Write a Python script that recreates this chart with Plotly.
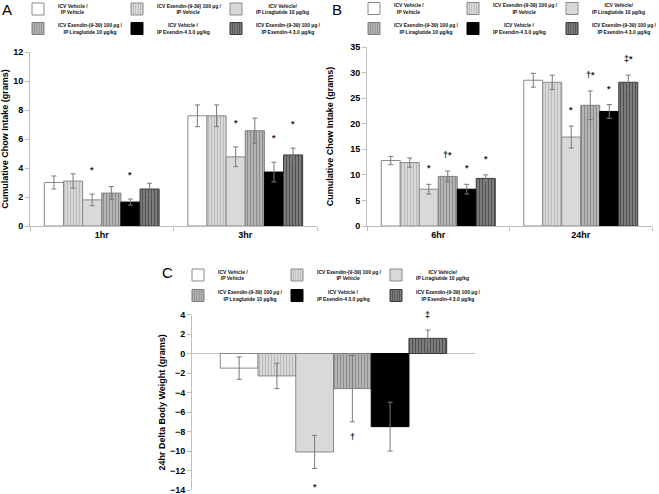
import plotly.graph_objects as go

W, H = 659, 494

# ---------------- data ----------------
series_line1 = [
    "ICV Vehicle /",
    "ICV Exendin-(9-39) 100 µg /",
    "ICV Vehicle/",
    "ICV Exendin-(9-39) 100 µg /",
    "ICV Vehicle /",
    "ICV Exendin-(9-39) 100 µg /",
]
series_line2 = [
    "IP Vehicle",
    "IP Vehicle",
    "IP Liraglutide 10 µg/kg",
    "IP Liraglutide 10 µg/kg",
    "IP Exendin-4 3.0 µg/kg",
    "IP Exendin-4 3.0 µg/kg",
]

a_categories = ["1hr", "3hr"]
a_values = [[3.0, 7.6], [3.1, 7.6], [1.8, 4.77], [2.27, 6.57], [1.65, 3.72], [2.55, 4.9]]
a_errors = [[0.45, 0.75], [0.5, 0.75], [0.4, 0.68], [0.45, 0.87], [0.21, 0.68], [0.4, 0.47]]
a_marks = [["", ""], ["", ""], ["*", "*"], ["", ""], ["*", "*"], ["", "*"]]

b_categories = ["6hr", "24hr"]
b_values = [[12.8, 28.5], [12.4, 28.1], [7.2, 17.4], [9.7, 23.6], [7.2, 22.4], [9.3, 28.1]]
b_errors = [[0.8, 1.35], [0.9, 1.4], [0.95, 2.15], [1.05, 2.8], [0.95, 1.35], [0.7, 1.4]]
b_marks = [["", ""], ["", ""], ["*", "*"], ["†*", "†*"], ["*", "*"], ["*", "‡*"]]

c_categories = ["24hr"]
c_values = [[-1.5], [-2.3], [-10.1], [-3.6], [-7.5], [1.55]]
c_errors = [[1.15], [1.3], [1.7], [3.4], [2.5], [0.85]]
c_marks = [[""], [""], ["*"], ["†"], [""], ["‡"]]

a_ytitle = "Cumulative Chow Intake (grams)"
b_ytitle = "Cumulative Chow Intake (grams)"
c_ytitle = "24hr Delta Body Weight (grams)"

# ---------------- styles ----------------
FONT = "Liberation Sans, Arial, sans-serif"
AXIS_GRAY = "#bfbfbf"
ERR_GRAY = "#7a7a7a"

bar_styles = [
    dict(color="#ffffff", line="#8a8a8a", pattern=None),
    dict(color="#e0e0e0", line="#8a8a8a",
         pattern=dict(shape="|", fgcolor="#8c8c8c", bgcolor="#e4e4e4", size=3, solidity=0.5)),
    dict(color="#d9d9d9", line="#8a8a8a", pattern=None),
    dict(color="#a6a6a6", line="#7f7f7f",
         pattern=dict(shape="|", fgcolor="#5c5c5c", bgcolor="#bcbcbc", size=3, solidity=0.45)),
    dict(color="#000000", line="#000000", pattern=None),
    dict(color="#555555", line="#3a3a3a",
         pattern=dict(shape="|", fgcolor="#161616", bgcolor="#8a8a8a", size=3, solidity=0.5)),
]

EM = {" ": 0.278, "/": 0.278, "(": 0.333, ")": 0.333, "-": 0.333, ".": 0.278,
      "I": 0.278, "i": 0.278, "l": 0.278, "j": 0.278, "t": 0.333, "f": 0.333,
      "r": 0.389, "µ": 0.611}


def em_width(s):
    total = 0.0
    for ch in s:
        if ch in EM:
            total += EM[ch]
        elif ch.isdigit():
            total += 0.556
        elif ch.isupper():
            total += 0.70
        else:
            total += 0.59
    return total


def centered(l1, l2):
    w1, w2 = em_width(l1), em_width(l2)
    pad = int(round(abs(w1 - w2) / 2 / 0.278))
    if w1 > w2:
        l2 = "\u00a0" * pad + l2
    else:
        l1 = "\u00a0" * pad + l1
    return l1 + "<br>" + l2


def px_x(px):
    return px / W


def px_y(py):
    return 1 - py / H


panels = [
    dict(cats=a_categories, vals=a_values, errs=a_errors, marks=a_marks,
         xa="x", ya="y", shift=24, legend_cx=38, legend_rows=(9, 28.5)),
    dict(cats=b_categories, vals=b_values, errs=b_errors, marks=b_marks,
         xa="x2", ya="y2", shift=16, legend_cx=374, legend_rows=(8.5, 28.5)),
    dict(cats=c_categories, vals=c_values, errs=c_errors, marks=c_marks,
         xa="x3", ya="y3", shift=15, legend_cx=198, legend_rows=(275, 295.5)),
]

fig = go.Figure()
annotations = []
legends = {}
n = len(series_line1)
BARGAP = 0.2

for p, pan in enumerate(panels):
    for r in range(2):
        idx = p * 2 + r
        key = "legend" if idx == 0 else f"legend{idx + 1}"
        legends[key] = dict(
            orientation="h", x=px_x(pan["legend_cx"] - 20), xanchor="left",
            y=px_y(pan["legend_rows"][r]), yanchor="middle",
            entrywidth=54, entrywidthmode="pixels",
            font=dict(family=FONT, size=5.0, color="#111111", weight="bold"),
            bgcolor="rgba(0,0,0,0)", borderwidth=0, tracegroupgap=0,
        )
    for i in range(n):
        st = bar_styles[i]
        marker = dict(color=st["color"], line=dict(color=st["line"], width=1))
        if st["pattern"] is not None:
            marker["pattern"] = st["pattern"]
        idx = p * 2 + (i // 3)
        key = "legend" if idx == 0 else f"legend{idx + 1}"
        extra = dict(legendwidth=68) if i % 3 == 2 else {}
        fig.add_trace(go.Bar(
            x=pan["cats"], y=pan["vals"][i], name=centered(series_line1[i], series_line2[i]),
            legend=key, xaxis=pan["xa"], yaxis=pan["ya"], marker=marker,
            error_y=dict(type="data", array=pan["errs"][i], visible=True,
                         color=ERR_GRAY, thickness=1, width=2.5),
            hoverinfo="skip", **extra,
        ))
        # significance markers
        for ci, mk in enumerate(pan["marks"][i]):
            if not mk:
                continue
            v = pan["vals"][i][ci]
            e = pan["errs"][i][ci]
            xpos = ci - (1 - BARGAP) / 2 + (i + 0.5) * (1 - BARGAP) / n
            if v >= 0:
                yv, ys = v + e, pan["shift"]
            else:
                yv, ys = v - e, -pan["shift"] - (3 if "*" in mk else 0)
            annotations.append(dict(
                x=xpos, y=yv, xref=pan["xa"], yref=pan["ya"], text=mk, showarrow=False,
                yanchor="middle", xanchor="center", yshift=ys,
                font=dict(family=FONT, size=9, color="#222222", weight="bold"),
            ))

# panel letters
for letter, cx, cy in [("A", 7, 10), ("B", 337, 10), ("C", 167, 272)]:
    annotations.append(dict(
        x=px_x(cx), y=px_y(cy), xref="paper", yref="paper", text=letter, showarrow=False,
        xanchor="center", yanchor="middle", font=dict(family=FONT, size=15, color="#000000"),
    ))

tickfont = dict(family=FONT, size=9, color="#000000", weight="bold")
titlefont = dict(family=FONT, size=9, color="#000000", weight="bold")

xcommon = dict(type="category", showline=True, linecolor=AXIS_GRAY, linewidth=1,
               ticks="outside", tickson="boundaries", ticklen=4, tickcolor=AXIS_GRAY,
               showgrid=False, zeroline=False, tickfont=tickfont, fixedrange=True)
ycommon = dict(showline=True, linecolor=AXIS_GRAY, linewidth=1, ticks="outside",
               ticklen=4, tickcolor=AXIS_GRAY, showgrid=False, tickfont=tickfont,
               fixedrange=True, ticklabeloverflow="allow")

fig.update_layout(
    width=W, height=H,
    margin=dict(l=0, r=0, t=0, b=0, autoexpand=False),
    paper_bgcolor="white", plot_bgcolor="rgba(0,0,0,0)",
    barmode="group", bargap=BARGAP, bargroupgap=0,
    showlegend=True,
    font=dict(family=FONT),
    xaxis=dict(domain=[px_x(30), px_x(317)], anchor="y", **xcommon),
    yaxis=dict(domain=[px_y(226), px_y(52)], anchor="x", range=[0, 12], dtick=2,
               zeroline=False, title=dict(text=a_ytitle, font=titlefont), **ycommon),
    xaxis2=dict(domain=[px_x(367), px_x(652)], anchor="y2", **xcommon),
    yaxis2=dict(domain=[px_y(226), px_y(47)], anchor="x2", range=[0, 35], dtick=5,
                zeroline=False, title=dict(text=b_ytitle, font=titlefont), **ycommon),
    xaxis3=dict(domain=[px_x(192), px_x(475)], anchor="y3", type="category",
                showline=False, showticklabels=False, ticks="", showgrid=False,
                zeroline=False, fixedrange=True),
    yaxis3=dict(domain=[px_y(490.3), px_y(314.5)], anchor="x3", range=[-14.03, 4],
                tick0=0, dtick=2,
                zeroline=True, zerolinecolor=AXIS_GRAY, zerolinewidth=1, automargin=True,
                title=dict(text=c_ytitle, font=titlefont, standoff=2), **ycommon),
    annotations=annotations,
    **legends,
)

fig.write_html("out.html", config={"displayModeBar": False},
               post_script="document.body.style.margin='0';")
